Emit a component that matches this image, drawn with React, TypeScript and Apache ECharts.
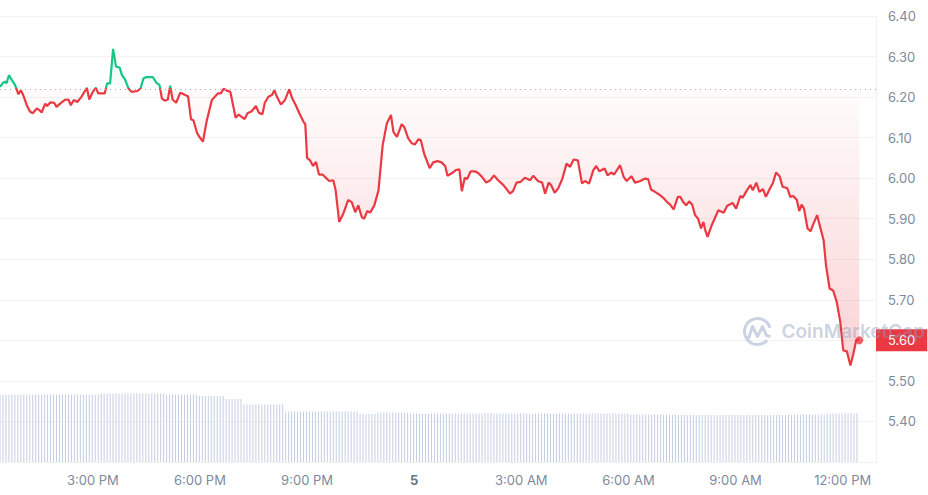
import React, { useEffect, useRef } from 'react';
import * as echarts from 'echarts';

// minutes since midnight of day 4
const START_MIN = 744; // 12:24 PM
const AXIS_END_MIN = 2216;
const OPEN_PRICE = 6.222;
const xTickMinutes = [900, 1080, 1260, 1440, 1620, 1800, 1980, 2160];
const Y_MIN = 5.3;
const Y_MAX = 6.4;
const DAY_LABEL = '5';

// [minute, price]
const pricePoints: [number, number][] = [
  [744, 6.225], [749, 6.235], [752, 6.238], [755, 6.234], [759, 6.254], [764, 6.242], [769, 6.231], [775, 6.207],
  [779, 6.217], [783, 6.205], [789, 6.18], [794, 6.165], [799, 6.16], [806, 6.172], [810, 6.168], [814, 6.162],
  [820, 6.184], [823, 6.178], [829, 6.187], [835, 6.186], [839, 6.176], [845, 6.184], [853, 6.193], [859, 6.194],
  [863, 6.18], [868, 6.193], [874, 6.188], [881, 6.201], [890, 6.223], [894, 6.194], [900, 6.213], [905, 6.223],
  [909, 6.209], [920, 6.209], [924, 6.234], [929, 6.234], [934, 6.319], [939, 6.275], [945, 6.273], [949, 6.254],
  [954, 6.244], [960, 6.221], [965, 6.213], [975, 6.215], [980, 6.221], [985, 6.246], [989, 6.249], [1001, 6.249],
  [1007, 6.235], [1012, 6.23], [1016, 6.197], [1021, 6.191], [1026, 6.194], [1030, 6.228], [1034, 6.194], [1040, 6.186],
  [1047, 6.211], [1050, 6.209], [1055, 6.205], [1060, 6.202], [1065, 6.145], [1069, 6.143], [1075, 6.112], [1078, 6.104],
  [1085, 6.09], [1091, 6.139], [1100, 6.193], [1105, 6.201], [1110, 6.209], [1115, 6.209], [1120, 6.221], [1125, 6.216],
  [1131, 6.213], [1140, 6.149], [1145, 6.157], [1150, 6.151], [1155, 6.146], [1160, 6.16], [1167, 6.165], [1174, 6.178],
  [1179, 6.161], [1185, 6.158], [1189, 6.186], [1195, 6.201], [1201, 6.205], [1205, 6.217], [1209, 6.202], [1216, 6.182],
  [1223, 6.193], [1230, 6.219], [1235, 6.197], [1241, 6.18], [1247, 6.16], [1254, 6.139], [1257, 6.133], [1260, 6.05],
  [1265, 6.044], [1270, 6.03], [1275, 6.04], [1280, 6.009], [1286, 6.009], [1293, 5.999], [1297, 5.993], [1304, 5.995],
  [1308, 5.97], [1314, 5.892], [1321, 5.913], [1329, 5.946], [1335, 5.941], [1341, 5.916], [1346, 5.933], [1352, 5.904],
  [1356, 5.9], [1361, 5.919], [1366, 5.915], [1373, 5.933], [1380, 5.97], [1387, 6.081], [1394, 6.135], [1401, 6.156],
  [1405, 6.114], [1411, 6.102], [1419, 6.133], [1423, 6.127], [1430, 6.098], [1436, 6.086], [1441, 6.083], [1447, 6.096],
  [1451, 6.094], [1457, 6.059], [1466, 6.025], [1472, 6.039], [1479, 6.042], [1486, 6.039], [1492, 6.03], [1496, 6.006],
  [1503, 6.012], [1510, 6.02], [1516, 6.022], [1520, 5.968], [1525, 6.001], [1529, 5.998], [1535, 6.017], [1542, 6.017],
  [1548, 6.012], [1554, 6.003], [1561, 5.989], [1568, 5.995], [1574, 6.007], [1581, 5.995], [1590, 5.983], [1601, 5.962],
  [1606, 5.968], [1612, 5.989], [1619, 5.991], [1626, 6.001], [1635, 5.995], [1640, 6.006], [1648, 5.993], [1655, 5.989],
  [1660, 5.962], [1666, 5.989], [1670, 5.983], [1676, 5.964], [1682, 5.975], [1689, 5.999], [1696, 6.036], [1702, 6.028],
  [1708, 6.046], [1715, 6.044], [1722, 5.987], [1727, 5.993], [1734, 5.987], [1741, 6.02], [1746, 6.03], [1751, 6.017],
  [1760, 6.024], [1765, 6.007], [1771, 6.014], [1776, 6.009], [1786, 6.032], [1792, 6.003], [1797, 5.993], [1805, 6.005],
  [1811, 5.989], [1820, 5.993], [1828, 5.999], [1833, 5.998], [1838, 5.972], [1846, 5.965], [1853, 5.958], [1859, 5.951],
  [1865, 5.941], [1870, 5.935], [1876, 5.923], [1883, 5.954], [1887, 5.954], [1892, 5.941], [1897, 5.933], [1902, 5.943],
  [1907, 5.935], [1912, 5.909], [1917, 5.9], [1922, 5.876], [1926, 5.892], [1929, 5.872], [1933, 5.855], [1940, 5.884],
  [1951, 5.921], [1960, 5.915], [1966, 5.932], [1975, 5.939], [1981, 5.925], [1988, 5.956], [1992, 5.952], [1999, 5.97],
  [2005, 5.983], [2009, 5.97], [2015, 5.989], [2020, 5.966], [2026, 5.973], [2031, 5.954], [2038, 5.975], [2043, 5.989],
  [2048, 6.014], [2054, 6.005], [2059, 5.979], [2067, 5.975], [2072, 5.954], [2077, 5.956], [2083, 5.946], [2087, 5.919],
  [2091, 5.935], [2095, 5.925], [2101, 5.876], [2106, 5.869], [2111, 5.888], [2117, 5.909], [2121, 5.886], [2128, 5.847],
  [2132, 5.785], [2138, 5.728], [2144, 5.723], [2150, 5.695], [2156, 5.645], [2161, 5.575], [2167, 5.573], [2173, 5.538],
  [2178, 5.567], [2183, 5.602], [2188, 5.6],
];

// 5-minute volume bars, as [number of consecutive bars, volume (M)]
const volumeRuns: [number, number][] = [
  [34, 135], [22, 137], [11, 135], [9, 132], [6, 126], [14, 115], [25, 101], [6, 96],
  [11, 99], [74, 97], [13, 95], [42, 94], [11, 95], [11, 97],
];
const VOLUME_AXIS_MAX = 892;

const RED = '#ea3943';
const GREEN = '#16c784';
const AXIS_TEXT = '#808a9d';
const WM = 'rgba(140,157,190,0.45)';

function fmtTime(v: number): string {
  if (v % 1440 === 0) return `{d|${DAY_LABEL}}`;
  const h = Math.floor(v / 60) % 24;
  const ap = h >= 12 ? 'PM' : 'AM';
  const h12 = h % 12 === 0 ? 12 : h % 12;
  return `${h12}:00 ${ap}`;
}

export default function App() {
  const ref = useRef<HTMLDivElement>(null);
  useEffect(() => {
    document.body.style.margin = '0';
    const chart = echarts.init(ref.current!, null, { renderer: 'svg' });

    const volumeData: [number, number][] = [];
    let t = START_MIN;
    for (const [count, v] of volumeRuns) {
      for (let k = 0; k < count; k++) {
        volumeData.push([t, v]);
        t += 5;
      }
    }
    const redArea = pricePoints.map(([m, p]) => [m, Math.min(p, OPEN_PRICE)]);
    const greenArea = pricePoints.map(([m, p]) => [m, Math.max(p, OPEN_PRICE)]);
    const last = pricePoints[pricePoints.length - 1];
    const lastLabel = last[1].toFixed(2);

    chart.setOption({
      animation: false,
      backgroundColor: '#ffffff',
      textStyle: { fontFamily: 'Inter, sans-serif' },
      grid: { left: 0, right: 52, top: 16, bottom: 33, containLabel: false },
      xAxis: {
        type: 'value',
        min: START_MIN,
        max: AXIS_END_MIN,
        axisLine: { show: true, lineStyle: { color: '#eff1f4' } },
        axisTick: { show: false },
        axisLabel: {
          customValues: xTickMinutes,
          formatter: fmtTime,
          color: AXIS_TEXT,
          fontSize: 13,
          margin: 11,
          fontFamily: 'Inter, sans-serif',
          rich: { d: { fontWeight: 'bold', color: '#6b7489', fontSize: 13, fontFamily: 'Inter, sans-serif' } },
        },
        splitLine: { show: false },
      },
      yAxis: [
        {
          type: 'value',
          position: 'right',
          min: Y_MIN,
          max: Y_MAX,
          interval: 0.1,
          axisLine: { show: true, lineStyle: { color: '#eff1f4' } },
          axisTick: { show: false },
          axisLabel: {
            showMinLabel: false,
            formatter: (v: number) => (v.toFixed(2) === lastLabel ? '' : v.toFixed(2)),
            color: AXIS_TEXT,
            fontSize: 13,
            margin: 12,
            fontFamily: 'Inter, sans-serif',
          },
          splitLine: { show: true, lineStyle: { color: '#f2f3f5', width: 1 } },
        },
        {
          type: 'value',
          min: 0,
          max: VOLUME_AXIS_MAX,
          show: false,
          splitLine: { show: false },
        },
      ],
      visualMap: {
        show: false,
        type: 'piecewise',
        seriesIndex: 0,
        dimension: 1,
        pieces: [
          { gt: OPEN_PRICE, lte: Y_MAX, color: GREEN },
          { gte: Y_MIN, lte: OPEN_PRICE, color: RED },
        ],
        outOfRange: { color: RED },
      },
      series: [
        {
          type: 'line',
          data: pricePoints,
          symbol: 'none',
          lineStyle: { width: 2.2 },
          z: 5,
        },
        {
          type: 'line',
          data: redArea,
          symbol: 'none',
          lineStyle: { width: 0, opacity: 0 },
          areaStyle: {
            origin: OPEN_PRICE,
            color: new echarts.graphic.LinearGradient(0, 0, 0, 1, [
              { offset: 0, color: 'rgba(234,57,67,0.02)' },
              { offset: 1, color: 'rgba(234,57,67,0.32)' },
            ]),
          },
          z: 2,
          markLine: {
            silent: true,
            symbol: 'none',
            z: 10,
            data: [
              {
                yAxis: OPEN_PRICE,
                lineStyle: { color: '#a3a9b8', type: [1, 4], width: 1 },
                label: { show: false },
              },
              {
                yAxis: last[1],
                lineStyle: { color: 'rgba(0,0,0,0)', width: 1, opacity: 1 },
                label: {
                  show: true,
                  position: 'end',
                  distance: 0,
                  formatter: () => lastLabel,
                  backgroundColor: RED,
                  color: '#ffffff',
                  opacity: 1,
                  fontSize: 13,
                  fontFamily: 'Inter, sans-serif',
                  padding: [5, 12, 4, 12],
                  lineHeight: 13,
                },
              },
            ],
          },
        },
        {
          type: 'line',
          data: greenArea,
          symbol: 'none',
          lineStyle: { width: 0, opacity: 0 },
          areaStyle: {
            origin: OPEN_PRICE,
            color: new echarts.graphic.LinearGradient(0, 0, 0, 1, [
              { offset: 0, color: 'rgba(22,199,132,0.16)' },
              { offset: 1, color: 'rgba(22,199,132,0.02)' },
            ]),
          },
          z: 2,
        },
        {
          type: 'bar',
          yAxisIndex: 1,
          data: volumeData,
          barWidth: 1,
          itemStyle: { color: '#c4cee1' },
          z: 1,
        },
        {
          type: 'scatter',
          data: [last],
          symbol: 'circle',
          symbolSize: 8,
          itemStyle: { color: RED },
          z: 6,
        },
      ],
      graphic: [
        {
          type: 'group',
          left: 742,
          top: 316,
          z: 100,
          silent: true,
          children: [
            {
              type: 'arc',
              z: 100,
              shape: { cx: 15, cy: 15, r: 13, startAngle: 0.75, endAngle: 6.0, clockwise: true },
              style: { stroke: WM, lineWidth: 3, fill: 'none' },
            },
            {
              type: 'polyline',
              z: 100,
              shape: { points: [[6, 22], [10, 10], [15, 20], [20, 10], [24, 19], [28, 20]] },
              style: { stroke: WM, lineWidth: 3, fill: 'none', lineJoin: 'round' },
            },
            {
              type: 'text',
              z: 100,
              x: 39,
              y: 15,
              style: { text: 'CoinMarketCap', font: '600 19px Inter, sans-serif', fill: WM, verticalAlign: 'middle' },
            },
          ],
        },
      ],
    });
    return () => chart.dispose();
  }, []);
  return <div ref={ref} style={{ width: 928, height: 495, position: 'absolute', left: 0, top: 0 }} />;
}
